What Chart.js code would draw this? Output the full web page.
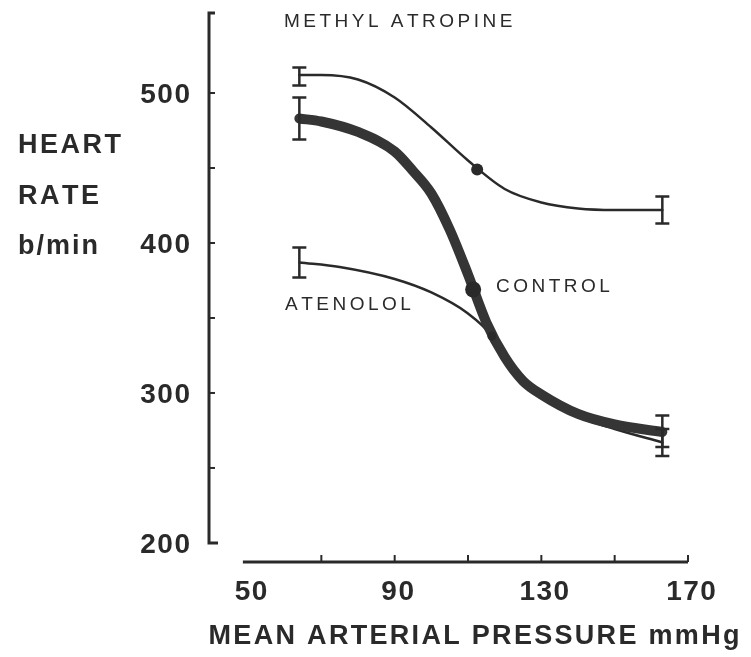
<!DOCTYPE html>
<html>
<head>
<meta charset="utf-8">
<script src="https://cdn.jsdelivr.net/npm/chart.js@4.4.1/dist/chart.umd.min.js"></script>
<style>
  html, body { margin: 0; padding: 0; background: #ffffff; }
  #wrap { width: 751px; height: 657px; }
</style>
</head>
<body>
<div id="wrap"><canvas id="c" width="751" height="657"></canvas></div>
<script>
// Baroreflex curves: heart rate (b/min) against mean arterial pressure (mmHg)

// Control curve
const controlPressure = [64, 70, 80, 90, 95, 100, 105, 110, 115, 120, 125, 130, 140, 150, 163];
const controlRate     = [483, 481, 474, 461, 448, 433, 409, 379, 347, 324, 308, 299, 286, 279, 274];

// Methyl atropine curve
const methylPressure = [64, 70, 80, 90, 100, 110, 120, 130, 140, 150, 163];
const methylRate     = [512, 512, 509, 497, 477, 455, 436, 427, 423, 422, 422];

// Atenolol curve
const atenololPressure = [64, 75, 90, 100, 110, 116.5, 120, 125, 130, 140, 150, 163];
const atenololRate     = [387, 384, 376, 367, 353, 338, 323, 307, 297, 284, 276, 267];

// Mid-range marked points
const controlDotPressure = [111.4];
const controlDotRate     = [369];
const methylDotPressure  = [112.5];
const methylDotRate      = [449];
const atenololDotPressure = [116.5];
const atenololDotRate     = [338];

// Error bars (low / high) at the extremes of each curve
const methylErrPressure = [64, 163];
const methylErrLow      = [505, 413];
const methylErrHigh     = [517, 431];
const controlErrPressure = [64, 163];
const controlErrLow      = [469, 264];
const controlErrHigh     = [497, 285];
const atenololErrPressure = [64, 163];
const atenololErrLow      = [377, 258];
const atenololErrHigh     = [397, 276];

// Axis ticks
const yTickLabels = [200, 300, 400, 500];
const yTickMarks  = [250, 300, 350, 400, 450, 500];
const xTickLabels = [50, 90, 130, 170];
const xTickMarks  = [70, 90, 110, 130, 150, 170];

const ink = '#2a2a2a';
const FONT = '"Liberation Sans", Arial, Helvetica, sans-serif';

function pts(xs, ys) { return xs.map((v, i) => ({ x: v, y: ys[i] })); }

// Draw text with extra spacing between letters
function spaced(ctx, text, x, y, gap, align) {
  const ws = [];
  let w = 0;
  for (const ch of text) { const m = ctx.measureText(ch).width; ws.push(m); w += m; }
  w += gap * (ws.length - 1);
  let cx = align === 'right' ? x - w : align === 'center' ? x - w / 2 : x;
  ctx.textAlign = 'left';
  let i = 0;
  for (const ch of text) { ctx.fillText(ch, cx, y); cx += ws[i++] + gap; }
}

const frame = {
  id: 'frame',
  beforeDatasetsDraw(chart) {
    const { ctx, chartArea, scales: { x, y } } = chart;
    ctx.save();
    ctx.strokeStyle = ink;
    ctx.fillStyle = ink;
    ctx.lineWidth = 3;
    ctx.lineCap = 'butt';

    // vertical axis, ending with a small hook at 200
    const ax = chartArea.left;
    const yTop = chartArea.top;
    const yBot = y.getPixelForValue(200);
    ctx.beginPath();
    ctx.moveTo(ax + 6, yTop + 1);
    ctx.lineTo(ax, yTop + 1);
    ctx.lineTo(ax, yBot);
    ctx.lineTo(ax + 9, yBot);
    ctx.stroke();

    ctx.lineWidth = 2;
    yTickMarks.forEach(v => {
      const py = y.getPixelForValue(v);
      ctx.beginPath(); ctx.moveTo(ax, py); ctx.lineTo(ax + 6, py); ctx.stroke();
    });

    // horizontal axis
    const by = chartArea.bottom;
    ctx.lineWidth = 3;
    ctx.beginPath();
    ctx.moveTo(x.getPixelForValue(48.6), by);
    ctx.lineTo(x.getPixelForValue(170), by);
    ctx.stroke();
    ctx.lineWidth = 2;
    xTickMarks.forEach(v => {
      const px = x.getPixelForValue(v);
      ctx.beginPath(); ctx.moveTo(px, by); ctx.lineTo(px, by - 7); ctx.stroke();
    });

    // tick labels
    ctx.font = 'bold 28px ' + FONT;
    ctx.textBaseline = 'middle';
    yTickLabels.forEach(v => {
      spaced(ctx, String(v), ax - 19, y.getPixelForValue(v) + 2, 1.5, 'right');
    });
    xTickLabels.forEach(v => {
      spaced(ctx, String(v), x.getPixelForValue(v) + 3, by + 30, 1.5, 'center');
    });

    // axis titles
    ctx.font = 'bold 27px ' + FONT;
    spaced(ctx, 'HEART', 18, 146, 2.5, 'left');
    spaced(ctx, 'RATE', 18, 197, 2.5, 'left');
    spaced(ctx, 'b/min', 18, 247, 2, 'left');
    spaced(ctx, 'MEAN ARTERIAL PRESSURE mmHg', 474, 637, 2.3, 'center');

    // curve labels
    ctx.font = '19px ' + FONT;
    spaced(ctx, 'METHYL ATROPINE', 284, 22, 3.5, 'left');
    spaced(ctx, 'CONTROL', 496, 287, 3.5, 'left');
    spaced(ctx, 'ATENOLOL', 285, 305, 3.5, 'left');
    ctx.restore();
  },
  afterDatasetsDraw(chart) {
    const { ctx, scales: { x, y } } = chart;
    ctx.save();
    ctx.strokeStyle = ink;
    ctx.lineWidth = 2.5;
    const bars = [
      [methylErrPressure, methylErrLow, methylErrHigh],
      [controlErrPressure, controlErrLow, controlErrHigh],
      [atenololErrPressure, atenololErrLow, atenololErrHigh]
    ];
    bars.forEach(([xs, lo, hi]) => {
      xs.forEach((v, i) => {
        const px = x.getPixelForValue(v);
        const p1 = y.getPixelForValue(lo[i]);
        const p2 = y.getPixelForValue(hi[i]);
        ctx.beginPath();
        ctx.moveTo(px, p1); ctx.lineTo(px, p2);
        ctx.moveTo(px - 7, p1); ctx.lineTo(px + 7, p1);
        ctx.moveTo(px - 7, p2); ctx.lineTo(px + 7, p2);
        ctx.stroke();
      });
    });
    ctx.restore();
  }
};

const lineBase = {
  type: 'line',
  pointRadius: 0,
  pointHoverRadius: 0,
  cubicInterpolationMode: 'monotone',
  fill: false,
  borderColor: ink,
  borderCapStyle: 'round',
  borderJoinStyle: 'round'
};
const dotBase = {
  type: 'scatter',
  showLine: false,
  backgroundColor: ink,
  borderColor: ink,
  borderWidth: 0
};

new Chart(document.getElementById('c'), {
  type: 'line',
  data: {
    datasets: [
      Object.assign({}, dotBase, { label: 'Control point', data: pts(controlDotPressure, controlDotRate), pointRadius: 8, order: 0 }),
      Object.assign({}, dotBase, { label: 'Methyl atropine point', data: pts(methylDotPressure, methylDotRate), pointRadius: 6, order: 0 }),
      Object.assign({}, dotBase, { label: 'Atenolol point', data: pts(atenololDotPressure, atenololDotRate), pointRadius: 4.5, order: 0 }),
      Object.assign({}, lineBase, { label: 'Control', data: pts(controlPressure, controlRate), borderWidth: 10, borderColor: '#353535', order: 1 }),
      Object.assign({}, lineBase, { label: 'Methyl atropine', data: pts(methylPressure, methylRate), borderWidth: 2.5, order: 2 }),
      Object.assign({}, lineBase, { label: 'Atenolol', data: pts(atenololPressure, atenololRate), borderWidth: 2.5, order: 2 })
    ]
  },
  options: {
    responsive: false,
    animation: false,
    devicePixelRatio: 1,
    layout: { padding: { left: 209, top: 12, right: 63, bottom: 95 } },
    plugins: { legend: { display: false }, tooltip: { enabled: false } },
    scales: {
      x: { type: 'linear', display: false, min: 39.36, max: 170 },
      y: { type: 'linear', display: false, min: 187.3, max: 554 }
    }
  },
  plugins: [frame]
});
</script>
</body>
</html>
